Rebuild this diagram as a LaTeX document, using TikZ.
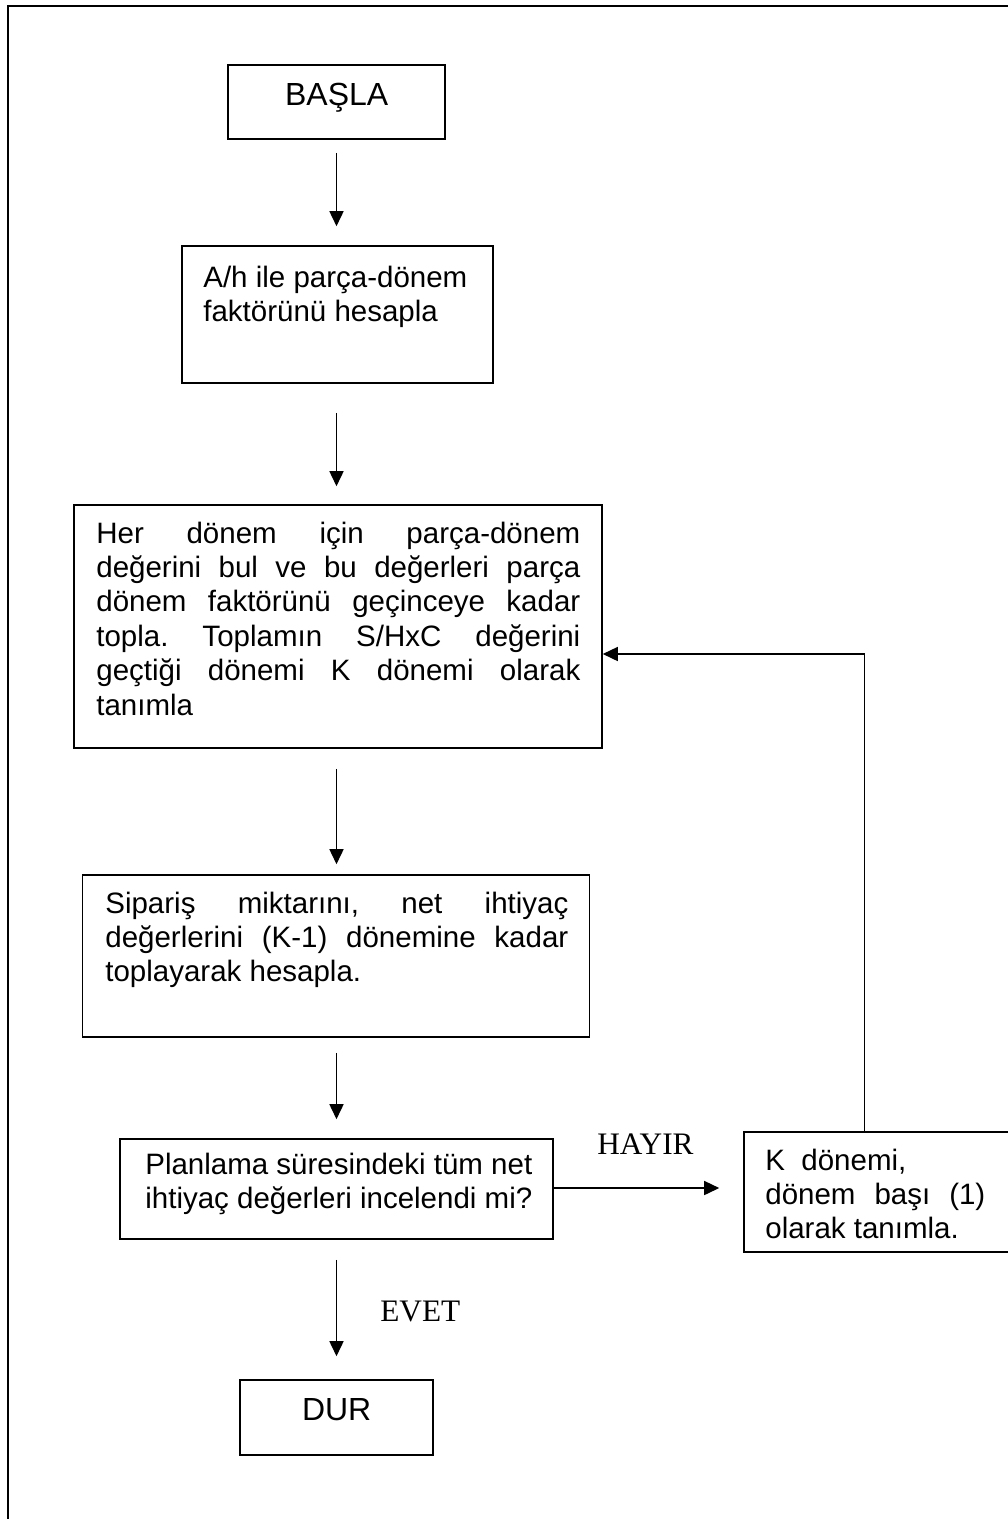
\documentclass[tikz,border=0pt]{standalone}
\usepackage{fontspec}
\setmainfont{Liberation Sans}
\newfontfamily\labelfont{Liberation Serif}
\usetikzlibrary{arrows.meta,calc}
\newlength\pxu
\setlength\pxu{0.02cm}
\frenchspacing
% one justified line, stretched to the full text width
\newcommand\jline[1]{\makebox[\linewidth][s]{#1}}

\begin{document}
\begin{tikzpicture}[x=0.02cm,y=-0.02cm,
  box/.style={draw, line width=0.9pt, inner sep=0pt},
  txt/.style={inner sep=0pt, font=\fontsize{16.79pt}{19.63pt}\selectfont},
  bigtxt/.style={inner sep=0pt, font=\fontsize{18.2pt}{21pt}\selectfont},
  lbl/.style={inner sep=0pt, font=\labelfont\fontsize{17.81pt}{20pt}\selectfont},
  arr/.style={line width=0.9pt, -{Triangle[length=0.3cm,width=0.28cm]}}]
\useasboundingbox (0,0) rectangle (1008,1519);
\fill[white] (0,0) rectangle (1008,1519);
\clip (0,0) rectangle (1008,1519);

% page frame
\draw[line width=1.1pt] (8,1530) -- (8,6) -- (1030,6);

% boxes
\node[box, minimum width=217\pxu, minimum height=74\pxu]  (start) at (336.5,102)   {};
\node[box, minimum width=311\pxu, minimum height=137\pxu] (factor) at (337.5,314.5) {};
\node[box, minimum width=528\pxu, minimum height=243\pxu] (sumup) at (338,626.5)   {};
\node[box, minimum width=507\pxu, minimum height=162\pxu] (order) at (336,956)     {};
\node[box, minimum width=433\pxu, minimum height=100\pxu] (check) at (336.5,1189)  {};
\node[box, minimum width=286\pxu, minimum height=120\pxu] (reset) at (887,1192)    {};
\node[box, minimum width=193\pxu, minimum height=75\pxu]  (stop) at (336.5,1417.5) {};

% box texts
\node[bigtxt, anchor=base] (startT) at (336.7,105) {BAŞLA};
\node[txt, anchor=base west] (factorT) at (203,287)
  {\parbox[t]{290\pxu}{A/h ile parça-dönem\\faktörünü hesapla}};
\node[txt, anchor=base west] (sumupT) at (96,543)
  {\parbox[t]{484\pxu}{%
    \jline{Her dönem için parça-dönem}\\
    \jline{değerini bul ve bu değerleri parça}\\
    \jline{dönem faktörünü geçinceye kadar}\\
    \jline{topla. Toplamın S/HxC değerini}\\
    \jline{geçtiği dönemi K dönemi olarak}\\
    tanımla}};
\node[txt, anchor=base west] (orderT) at (105,913)
  {\parbox[t]{463\pxu}{%
    \jline{Sipariş miktarını, net ihtiyaç}\\
    \jline{değerlerini (K-1) dönemine kadar}\\
    toplayarak hesapla.}};
\node[txt, anchor=base west] (checkT) at (145,1174)
  {\parbox[t]{400\pxu}{Planlama süresindeki tüm net\\ihtiyaç değerleri incelendi mi?}};
\node[txt, anchor=base west] (resetT) at (765,1170)
  {\parbox[t]{220\pxu}{%
    K\ \ dönemi,\\
    \jline{dönem başı (1)}\\
    olarak tanımla.}};
\node[bigtxt, anchor=base] (stopT) at (336.7,1420) {DUR};

% branch labels
\node[lbl, anchor=base west] (no)  at (597,1154) {HAYIR};
\node[lbl, anchor=base west] (yes) at (380,1321) {EVET};

% flow arrows
\draw[arr] ($(start.south)+(0,13)$)  -- ($(start.south |- factor.north)+(0,-19)$);
\draw[arr] ($(start.south |- factor.south)+(0,29)$) -- ($(start.south |- sumup.north)+(0,-18)$);
\draw[arr] ($(start.south |- sumup.south)+(0,20)$)  -- ($(start.south |- order.north)+(0,-10)$);
\draw[arr] ($(start.south |- order.south)+(0,15)$)  -- ($(start.south |- check.north)+(0,-19)$);
\draw[arr] ($(start.south |- check.south)+(0,20)$)  -- ($(start.south |- stop.north)+(0,-23)$);

% no branch and loop back
\draw[arr] ($(check.east)+(0,-1)$) -- ($(check.east -| reset.west)+(-24,-1)$);
\draw[arr] ($(reset.north)+(-22.5,0)$) |- ($(sumup.east)+(0,27.5)$);
\end{tikzpicture}
\end{document}
